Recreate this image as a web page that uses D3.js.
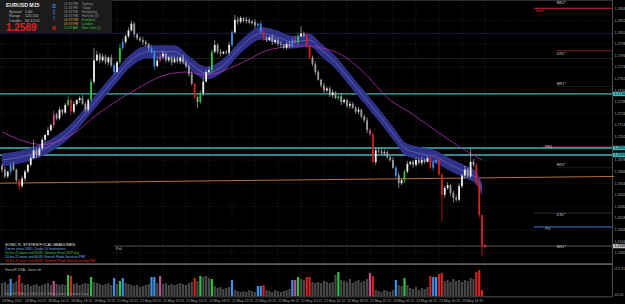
<!DOCTYPE html>
<html>
<head>
<meta charset="utf-8">
<script src="https://cdn.jsdelivr.net/npm/d3@7"></script>
<style>
html, body { margin: 0; padding: 0; background: #000; }
svg { display: block; font-family: "Liberation Sans", "DejaVu Sans", sans-serif; }
</style>
</head>
<body>
<div id="chart"></div>
<script>
// EURUSD M15, 18-23 May 2012 (bars grouped in pairs)
const firstOpen = 1.2672;
const closes = [
  1.2668,1.2661,1.2666,1.2673,1.2668,1.2657,1.2651,1.2659,1.2666,1.2673,
  1.2680,1.2688,1.2683,1.2690,1.2699,1.2704,1.2709,1.2714,1.2725,1.2721,
  1.2730,1.2727,1.2735,1.2740,1.2728,1.2736,1.2740,1.2742,1.2736,1.2730,
  1.2740,1.2759,1.2781,1.2787,1.2781,1.2785,1.2779,1.2784,1.2776,1.2769,
  1.2779,1.2794,1.2800,1.2806,1.2812,1.2819,1.2808,1.2804,1.2802,1.2800,
  1.2798,1.2794,1.2790,1.2775,1.2781,1.2785,1.2788,1.2781,1.2784,1.2779,
  1.2783,1.2780,1.2784,1.2779,1.2775,1.2767,1.2757,1.2743,1.2738,1.2747,
  1.2759,1.2769,1.2771,1.2790,1.2797,1.2790,1.2788,1.2790,1.2789,1.2797,
  1.2810,1.2823,1.2821,1.2825,1.2822,1.2823,1.2820,1.2821,1.2817,1.2819,
  1.2811,1.2804,1.2802,1.2805,1.2800,1.2802,1.2798,1.2797,1.2794,1.2798,
  1.2796,1.2802,1.2800,1.2806,1.2809,1.2807,1.2796,1.2784,1.2777,1.2769,
  1.2761,1.2755,1.2750,1.2752,1.2745,1.2748,1.2742,1.2744,1.2738,1.2740,
  1.2734,1.2736,1.2732,1.2728,1.2730,1.2723,1.2719,1.2709,1.2705,1.2676,
  1.2688,1.2687,1.2685,1.2686,1.2681,1.2678,1.2670,1.2662,1.2654,1.2657,
  1.2666,1.2674,1.2676,1.2673,1.2678,1.2675,1.2678,1.2676,1.2680,1.2670,
  1.2676,1.2678,1.2663,1.2642,1.2649,1.2652,1.2644,1.2639,1.2637,1.2651,
  1.2662,1.2668,1.2661,1.2676,1.2673,1.2655,1.2621,1.2589
];
// wick lengths in pips above / below the body
const wickUp = [
  2,3,1,2,3,1,2,3,2,1, 3,11,2,3,2,1,3,2,4,2, 3,1,2,4,2,3,1,2,3,2,
  2,3,13,4,2,3,2,1,3,2, 2,4,3,2,3,3,2,1,2,3, 2,1,3,2,4,2,3,1,2,2,
  3,2,1,3,2,2,3,1,2,3, 4,2,3,2,5,2,3,1,2,3, 2,5,3,2,1,3,2,2,3,1,
  2,3,2,1,3,2,2,3,1,2, 3,2,4,3,7,2,3,1,2,3, 2,1,3,2,2,3,1,2,3,2,
  1,3,2,2,3,1,2,3,2,1, 3,2,4,3,2,1,3,2,3,2, 2,3,1,2,3,2,3,1,2,3,
  2,1,3,2,2,3,1,2,3,3, 2,4,2,14,3,2,3,1
];
const wickDn = [
  3,2,2,3,1,2,4,2,3,2, 2,1,3,2,2,3,1,2,3,2, 2,3,1,2,3,2,2,3,1,2,
  3,2,2,1,3,2,2,3,2,3, 1,2,3,2,2,1,3,2,2,3, 2,3,2,4,1,2,3,2,2,3,
  1,2,3,2,2,3,2,2,6,2, 3,1,2,3,2,2,3,1,2,3, 2,1,3,2,2,3,1,2,3,2,
  2,3,2,1,3,2,2,3,1,2, 3,2,2,3,1,2,3,2,2,3, 1,2,3,2,2,3,1,2,3,2,
  2,3,1,2,3,2,2,3,2,1, 3,2,2,3,2,2,1,3,5,2, 3,2,2,3,2,2,3,2,1,2,
  3,2,2,28,3,2,3,5,2,2, 2,3,1,2,2,3,3,11
];
// VSA bar class: w normal, b blue, g green, r red, m magenta
const barClass = ("wwwbwwrwww wwwwwwwwmw wwwgrwwwww wgwwwwwwwb wgbwwwwwww " +
  "wwbbwmwwww wwwwwwwrwg wwwgwwwwww bwwwwwwwwb brwwwwwwww " +
  "wbmgwwrrww wwwwwwwgww wwwwwwwwmr wwwwwwwbww gwwwwwwwwr " +
  "bbrrwwwwww wwwwwrrr").replace(/ /g, "");
const volumes = [
  520,560,480,680,520,600,840,520,440,480, 400,440,480,400,440,480,520,440,600,480,
  440,480,440,840,800,480,520,440,480,520, 480,760,560,520,480,440,480,520,440,720,
  480,600,720,520,480,440,400,440,360,400, 440,480,760,760,520,800,480,520,440,480,
  440,480,520,480,440,520,560,720,600,800, 760,800,720,680,400,320,360,280,320,360,
  640,240,200,160,200,160,240,200,160,400, 400,440,240,200,160,240,200,160,200,240,
  280,640,640,760,680,640,760,760,560,520, 560,520,600,560,520,560,840,960,640,600,
  560,680,520,600,640,560,600,680,920,800, 240,200,160,240,200,160,240,640,440,400,
  720,440,320,280,360,240,320,280,360,800, 760,760,880,920,600,640,560,680,600,640,
  560,640,600,720,680,960,1040,240
];

// Dragon band (EMA 34) and slow MA, read at selected bars
const dragonBar = [0, 11, 23, 31, 38, 46, 51, 60, 65, 71, 77, 83, 90, 96, 101, 107, 111, 116, 121, 126, 131, 137, 140, 145, 151, 156, 161, 165, 167];
const dragonMid = [1.2678,1.2685,1.2706,1.2733,1.2758,1.2784,1.2790,1.2790,1.2779,1.2768,1.2776,1.2795,1.2809,1.2805,1.2800,1.2802,1.2792,1.2779,1.2761,1.2743,1.2725,1.2702,1.2690,1.2685,1.2681,1.2673,1.2666,1.2659,1.2647];
const dragonHalf = 0.00066;
const slowBar = [0, 14, 23, 34, 46, 57, 64, 71, 83, 93, 104, 111, 118, 125, 135, 142, 152, 160, 167];
const slowMa = [1.2707,1.2694,1.2702,1.2727,1.2750,1.2766,1.2769,1.2766,1.2778,1.2792,1.2796,1.2794,1.2787,1.2771,1.2740,1.2727,1.2706,1.2690,1.2678];

const priceTicks = [1.2834,1.2822,1.2810,1.2798,1.2786,1.2774,1.2762,1.2750,1.2738,1.2726,1.2714,1.2702,1.2690,1.2678,1.2666,1.2654,1.2642,1.2630,1.2618,1.2606,1.2594,1.2582];
const timeLabels = ["18 May 2012","18 May 10:15","18 May 14:15","18 May 18:15","18 May 22:15",
  "21 May 02:15","21 May 06:15","21 May 10:15","21 May 14:15","21 May 18:15","21 May 22:15",
  "22 May 02:15","22 May 06:15","22 May 10:15","22 May 14:15","22 May 18:15","22 May 22:15",
  "23 May 02:15","23 May 06:15","23 May 10:15","23 May 14:15"];

// horizontal levels (price, first bar or null for full width)
const levels = [
  { price: 1.2809, from: null, color: "#1a2250", w: 0.8 },
  { price: 1.2783, from: null, color: "#2a2a2a", w: 0.8 },
  { price: 1.2835, from: 185, color: "#e02424", w: 1.1, label: "MR2*", lx: 193, ly: -4, sub: "Start", subColor: "#e03030" },
  { price: 1.2791, from: 193, color: "#9a2020", w: 0.9, label: "DR1*", lx: 193, ly: 4 },
  { price: 1.2754, from: 193, color: "#303030", w: 0.6, label: "MR1*", lx: 193, ly: -2 },
  { price: 1.27463, from: null, color: "#45b5bd", w: 1.3, box: true },
  { price: 1.26916, from: 188, color: "#a02020", w: 0.8, label: "PR1", lx: 189, ly: 1 },
  { price: 1.26904, from: null, color: "#45b5bd", w: 1.3, box: true },
  { price: 1.26832, from: null, color: "#45b5bd", w: 1.3, box: true },
  { price: 1.2670, from: 193, color: "#303030", w: 0.6, label: "MS1*", lx: 193, ly: -2 },
  { price: 1.26232, from: 185, color: "#44465a", w: 0.6, label: "DS1*", lx: 193, ly: 3 },
  { price: 1.26087, from: 185, color: "#2f7fe0", w: 1, label: "PrL", lx: 189, ly: 3 },
  { price: 1.2589, from: 39, color: "#8a8a8a", w: 0.6, label: "MS1*", lx: 193, ly: 2, sub: "PoL", subColor: "#cfcfcf" }
];
const trendline = [{ bar: -1, price: 1.2654 }, { bar: 213, price: 1.2661 }];

const sessions = [
  { time: "12:33 PM", city: "Sydney", tc: "#9a9a9a", cc: "#9a9a9a" },
  { time: "11:33 PM", city: "Tokyo", tc: "#9a9a9a", cc: "#9a9a9a" },
  { time: "10:33 PM", city: "Hongkong", tc: "#9a9a9a", cc: "#9a9a9a" },
  { time: "05:33 PM", city: "Helsinki (3)", tc: "#9a9a9a", cc: "#9a9a9a" },
  { time: "04:33 PM", city: "Frankfurt", tc: "#d8a030", cc: "#3fc03f" },
  { time: "03:33 PM", city: "London", tc: "#d8a030", cc: "#3fc03f" },
  { time: "10:33 AM", city: "New York (1)", tc: "#3fc03f", cc: "#3fc03f" }
];
const headlines = [
  { text: "3 mins since USD: Crude Oil Inventories", color: "#7ab4f0" },
  { text: "10 hrs 25 mins until EUR: German Final GDP q/q", color: "#4fd04f" },
  { text: "10 hrs 25 mins until EUR: French Flash Services PMI", color: "#7ab4f0" },
  { text: "10 hrs 25 mins until EUR: German Flash Manufacturing PMI", color: "#e02828" }
];

const W = 625, H = 304, plotR = 612;
const clsColor = { w: null, b: "#3d8fe8", g: "#2fc23f", r: "#d42020", m: "#c0508c" };

const svg = d3.select("#chart").append("svg").attr("width", W).attr("height", H);
svg.append("rect").attr("width", W).attr("height", H).attr("fill", "#000");

const x = d3.scaleLinear().domain([0, 167]).range([2, 482.1]);
const y = d3.scaleLinear().domain([1.25725, 1.28435]).range([262, 0]);
const yv = d3.scaleLinear().domain([0, 1200]).range([296, 266]);

// grid
const grid = svg.append("g").attr("stroke", "#2e2e2e").attr("stroke-width", 0.6).attr("stroke-dasharray", "1,1.5");
grid.selectAll(".vg").data(d3.range(22)).enter().append("line")
  .attr("x1", d => x(d * 8)).attr("x2", d => x(d * 8))
  .attr("y1", 0).attr("y2", 296);
grid.selectAll(".hg").data(priceTicks.filter((d, i) => i % 2 === 1)).enter().append("line")
  .attr("x1", 0).attr("x2", plotR).attr("y1", d => y(d)).attr("y2", d => y(d));

// levels
const lv = svg.append("g");
levels.forEach(l => {
  lv.append("line")
    .attr("x1", l.from === null ? 0 : x(l.from)).attr("x2", plotR)
    .attr("y1", y(l.price)).attr("y2", y(l.price))
    .attr("stroke", l.color).attr("stroke-width", l.w);
});
lv.append("line")
  .attr("x1", x(trendline[0].bar)).attr("y1", y(trendline[0].price))
  .attr("x2", x(trendline[1].bar)).attr("y2", y(trendline[1].price))
  .attr("stroke", "#b86c3c").attr("stroke-width", 1);

// dragon band
const band = d3.area().curve(d3.curveMonotoneX)
  .x((d, i) => x(dragonBar[i]))
  .y0(d => y(d - dragonHalf)).y1(d => y(d + dragonHalf));
svg.append("path").datum(dragonMid).attr("d", band).attr("fill", "#30348e").attr("opacity", 0.95);
const midLine = d3.line().curve(d3.curveMonotoneX).x((d, i) => x(dragonBar[i])).y(d => y(d));
svg.append("path").datum(dragonMid).attr("d", midLine).attr("fill", "none")
  .attr("stroke", "#8088d0").attr("stroke-width", 0.5);
const slowLine = d3.line().curve(d3.curveMonotoneX).x((d, i) => x(slowBar[i])).y(d => y(d));
svg.append("path").datum(slowMa).attr("d", slowLine).attr("fill", "none")
  .attr("stroke", "#b02fb0").attr("stroke-width", 0.8);

// candles
const candles = closes.map((c, i) => {
  const o = i === 0 ? firstOpen : closes[i - 1];
  return {
    i, o, c,
    h: Math.max(o, c) + wickUp[i] / 10000,
    l: Math.min(o, c) - wickDn[i] / 10000,
    k: barClass[i]
  };
});
const cg = svg.append("g");
cg.selectAll("line").data(candles).enter().append("line")
  .attr("x1", d => x(d.i)).attr("x2", d => x(d.i))
  .attr("y1", d => y(d.h)).attr("y2", d => y(d.l))
  .attr("stroke", d => clsColor[d.k] || "#b4b4b4").attr("stroke-width", 0.7);
cg.selectAll("rect").data(candles).enter().append("rect")
  .attr("x", d => x(d.i) - 0.9).attr("width", 1.8)
  .attr("y", d => y(Math.max(d.o, d.c)))
  .attr("height", d => Math.max(0.6, Math.abs(y(d.o) - y(d.c))))
  .attr("fill", d => clsColor[d.k] || (d.c >= d.o ? "#ececec" : "#9c9c9c"));
svg.append("circle").attr("cx", x(167) + 3).attr("cy", y(closes[167])).attr("r", 1.3).attr("fill", "#ff2020");

// level labels in the empty right area
const lt = svg.append("g").attr("font-size", 3.6);
levels.filter(l => l.label).forEach(l => {
  lt.append("text").attr("x", x(l.lx)).attr("y", y(l.price) + l.ly)
    .attr("fill", "#cfcfcf").text(l.label);
  if (l.sub) lt.append("text").attr("x", x(l.from) + 2).attr("y", y(l.price) + 3.5)
    .attr("fill", l.subColor).text(l.sub);
});

// panel separator and sub window
svg.append("rect").attr("x", 0).attr("y", 263.2).attr("width", plotR).attr("height", 1.8).attr("fill", "#5a5a5a");
const vg = svg.append("g");
vg.selectAll("rect").data(volumes).enter().append("rect")
  .attr("x", (d, i) => x(i) - 1.1).attr("width", 2.2)
  .attr("y", d => yv(d)).attr("height", d => yv(0) - yv(d))
  .attr("fill", (d, i) => clsColor[barClass[i]] || "#474747");
svg.append("text").attr("x", 5).attr("y", 270.5).attr("font-size", 3.6).attr("fill", "#bdbdbd").text("SonicR VSA - slave alt");
svg.append("text").attr("x", 5).attr("y", 294.6).attr("font-size", 3.4).attr("fill", "#8a8a8a")
  .text("SonicR VSA (c) 2006-2012, MetaQuotes Software Corp.");

// frame and axes
svg.append("line").attr("x1", plotR + 0.5).attr("x2", plotR + 0.5).attr("y1", 0).attr("y2", 297).attr("stroke", "#707070").attr("stroke-width", 0.7);
svg.append("line").attr("x1", 0).attr("x2", plotR).attr("y1", 296.8).attr("y2", 296.8).attr("stroke", "#707070").attr("stroke-width", 0.7);
svg.append("line").attr("x1", 0).attr("x2", plotR).attr("y1", 0.5).attr("y2", 0.5).attr("stroke", "#505050").attr("stroke-width", 0.6);

const pa = svg.append("g").attr("font-size", 3.6).attr("fill", "#a8a8a8");
pa.selectAll("text").data(priceTicks).enter().append("text")
  .attr("x", plotR + 2.5).attr("y", d => y(d) + 1.3).text(d => d.toFixed(4));
pa.append("text").attr("x", plotR + 2).attr("y", 269.5).attr("font-size", 3.1).text("1171.31");
pa.append("text").attr("x", plotR + 2.5).attr("y", 296).text("41.05");

levels.filter(l => l.box).forEach(l => {
  svg.append("rect").attr("x", plotR + 1).attr("y", y(l.price) - 2.2).attr("width", 12).attr("height", 4.4).attr("fill", "#45b5bd");
  svg.append("text").attr("x", plotR + 2.5).attr("y", y(l.price) + 1.3).attr("font-size", 3.6).attr("fill", "#000").text(l.price.toFixed(4));
});
svg.append("rect").attr("x", plotR + 1).attr("y", y(closes[167]) - 2.2).attr("width", 12).attr("height", 4.4).attr("fill", "#b8b8b8");
svg.append("text").attr("x", plotR + 2.5).attr("y", y(closes[167]) + 1.3).attr("font-size", 3.6).attr("fill", "#000").text(closes[167].toFixed(4));

const ta = svg.append("g").attr("font-size", 3.5).attr("fill", "#a8a8a8");
ta.selectAll("text").data(timeLabels).enter().append("text")
  .attr("x", (d, i) => x(i * 8)).attr("y", 301.5).text(d => d);

// info panel
const ip = svg.append("g");
ip.append("rect").attr("x", 0).attr("y", 0).attr("width", 112).attr("height", 33).attr("fill", "#1b1b1b");
ip.append("text").attr("x", 6).attr("y", 7).attr("font-size", 5.2).attr("font-weight", "bold").attr("fill", "#f0f0f0").text("EURUSD   M15");
[["Spread", "1.60"], ["Range", "120,110"], ["Candle", "00:12:01"]].forEach((r, i) => {
  ip.append("text").attr("x", 9).attr("y", 12.5 + i * 4.6).attr("font-size", 3.8).attr("fill", "#bdbdbd").text(r[0]);
  ip.append("text").attr("x", 25).attr("y", 12.5 + i * 4.6).attr("font-size", 3.8).attr("fill", "#bdbdbd").text(r[1]);
});
ip.append("text").attr("x", 6).attr("y", 31).attr("font-size", 10).attr("font-weight", "bold").attr("fill", "#e02020").text(closes[167].toFixed(4));
ip.append("text").attr("x", 52).attr("y", 7.5).attr("font-size", 6).attr("font-weight", "bold").attr("fill", "#3d8fe8").text("S");
["E", "S", "S", "I"].forEach((c, i) => {
  ip.append("text").attr("x", 53).attr("y", 11.5 + i * 3.6).attr("font-size", 3.4).attr("fill", i < 3 ? "#3d8fe8" : "#d42020").text(c);
});
ip.append("text").attr("x", 52).attr("y", 30).attr("font-size", 5.5).attr("font-weight", "bold").attr("fill", "#e02020").text("R");
sessions.forEach((s, i) => {
  ip.append("text").attr("x", 64).attr("y", 4.6 + i * 4).attr("font-size", 3.3).attr("fill", s.tc).text(s.time);
  ip.append("text").attr("x", 82).attr("y", 4.6 + i * 4).attr("font-size", 3.3).attr("fill", s.cc).text(s.city);
});

// headlines block
const hb = svg.append("g");
hb.append("rect").attr("x", 0).attr("y", 240).attr("width", 112).attr("height", 22).attr("fill", "#000");
hb.append("text").attr("x", 5).attr("y", 245.5).attr("font-size", 3.8).attr("fill", "#e8e8e8").text("SONIC R. SYSTEM FOCAL HEADLINES:");
headlines.forEach((h, i) => {
  hb.append("text").attr("x", 5).attr("y", 250 + i * 4).attr("font-size", 3.4).attr("fill", h.color).text(h.text);
});
</script>
</body>
</html>
